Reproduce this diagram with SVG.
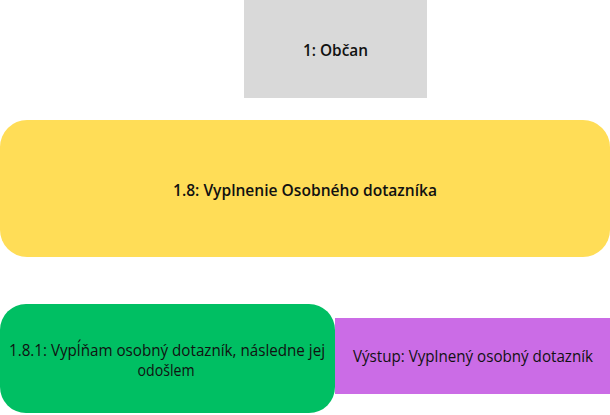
<svg xmlns="http://www.w3.org/2000/svg" width="610" height="415" viewBox="0 0 610 415">
<style>
text{font-family:"Open Sans","Noto Sans",sans-serif;font-size:16px;fill:#111;text-anchor:middle}
.b{font-weight:600}
</style>
<rect width="610" height="415" fill="#fff"/>
<g id="connectors"></g>
<g id="n1"><rect x="244" y="0" width="183" height="98" fill="#d9d9d9"/><text class="b" x="335.5" y="56" textLength="65" lengthAdjust="spacingAndGlyphs">1: Občan</text></g>
<g id="n18"><rect x="0" y="120" width="610" height="137" rx="27" fill="#ffdd57"/><text class="b" x="305" y="196" style="font-size:16.5px" textLength="264" lengthAdjust="spacingAndGlyphs">1.8: Vyplnenie Osobného dotazníka</text></g>
<g id="n181"><rect x="0" y="304" width="335" height="109" rx="26" fill="#00bf63"/><text x="167" y="356" textLength="316" lengthAdjust="spacingAndGlyphs">1.8.1: Vypĺňam osobný dotazník, následne jej</text><text x="166" y="376" textLength="57" lengthAdjust="spacingAndGlyphs">odošlem</text></g>
<g id="out"><rect x="335" y="318" width="275" height="76" fill="#cb6ce6"/><text x="473" y="362" textLength="240" lengthAdjust="spacingAndGlyphs">Výstup: Vyplnený osobný dotazník</text></g>
</svg>
